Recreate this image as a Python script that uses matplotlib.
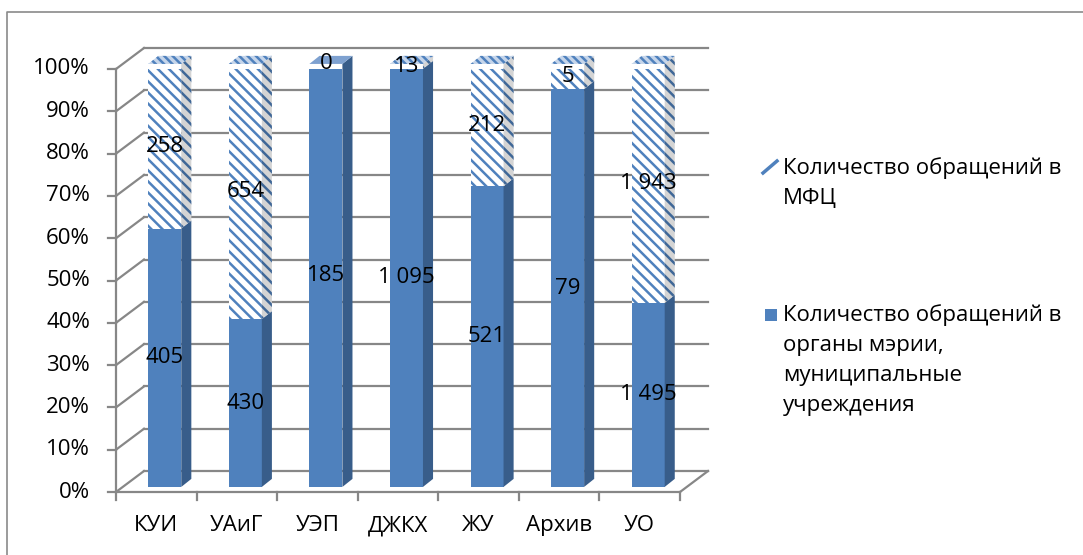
import matplotlib.pyplot as plt
from matplotlib.patches import Polygon, Rectangle
from matplotlib.lines import Line2D

categories = ['КУИ', 'УАиГ', 'УЭП', 'ДЖКХ', 'ЖУ', 'Архив', 'УО']
mayor_office = [405, 430, 185, 1095, 521, 79, 1495]
mfc = [258, 654, 0, 13, 212, 5, 1943]
legend_mfc = ['Количество обращений в', 'МФЦ']
legend_mayor = ['Количество обращений в', 'органы мэрии,', 'муниципальные', 'учреждения']

plt.rcParams['font.family'] = ['Open Sans', 'DejaVu Sans']
plt.rcParams['hatch.linewidth'] = 1.8

W, H = 1083, 555
blue = '#4F81BD'
dark = '#385D8A'
grid_c = '#878787'

n = len(categories)
pct_mayor = [m / (m + f) * 100 for m, f in zip(mayor_office, mfc)]
pct_mfc = [f / (m + f) * 100 for m, f in zip(mayor_office, mfc)]

fig = plt.figure(figsize=(W / 100, H / 100), dpi=100)
ax = fig.add_axes([116 / W, 1 - 492 / H, (680 - 116) / W, (492 - 69) / H])
ax.set_xlim(-0.5, n - 0.5)
ax.set_ylim(0, 100)
ax.axis('off')

# depth of the 3d box, bar offsets
DX, DY = 0.3475, 4.96
ox, oy = 0.105, 1.2
bw = 0.41
sx, sy = 0.125, 1.9

# walls and gridlines
for v in range(0, 101, 10):
    ax.plot([-0.5 + DX, n - 0.5 + DX], [v + DY, v + DY], color=grid_c, lw=1.6,
            clip_on=False, zorder=1)
    ax.plot([-0.5, -0.5 + DX], [v, v + DY], color=grid_c, lw=1.6, clip_on=False, zorder=1)
    ax.plot([-0.6, -0.5], [v, v], color=grid_c, lw=1.6, clip_on=False, zorder=1)
    ax.text(-0.823, v, f'{v}%', ha='right', va='center', fontsize=16)
ax.plot([-0.5, -0.5], [0, 100], color=grid_c, lw=1.6, clip_on=False, zorder=1)
ax.plot([-0.5, n - 0.5], [0, 0], color=grid_c, lw=1.6, clip_on=False, zorder=1)
ax.plot([n - 0.5, n - 0.5 + DX], [0, DY], color=grid_c, lw=1.6, clip_on=False, zorder=1)
for k in range(n + 1):
    ax.plot([k - 0.5, k - 0.5], [0, -1.9], color=grid_c, lw=1.6, clip_on=False, zorder=1)

for i, cat in enumerate(categories):
    ax.text(i, -8, cat, ha='center', va='center', fontsize=16)

# front faces
xf = [i + ox for i in range(n)]
ax.bar(xf, pct_mayor, bw, bottom=oy, color=blue, lw=0, zorder=3)
ax.bar(xf, pct_mfc, bw, bottom=[oy + p for p in pct_mayor], facecolor='white',
       edgecolor=blue, hatch='\\\\\\', lw=0, zorder=3)

# side and top faces
for i in range(n):
    xl = xf[i] - bw / 2
    xr = xf[i] + bw / 2
    y0 = oy
    y1 = oy + pct_mayor[i]
    y2 = y1 + pct_mfc[i]
    ax.add_patch(Polygon([(xr, y0), (xr, y1), (xr + sx, y1 + sy), (xr + sx, y0 + sy)],
                         closed=True, facecolor=dark, lw=0, zorder=3, clip_on=False))
    if pct_mfc[i] > 0:
        ax.add_patch(Polygon([(xr, y1), (xr, y2), (xr + sx, y2 + sy), (xr + sx, y1 + sy)],
                             closed=True, facecolor='#d4d4d4', edgecolor='#3F6797',
                             hatch='\\\\\\', lw=0, zorder=3, clip_on=False))
        ax.add_patch(Polygon([(xl, y2), (xr, y2), (xr + sx, y2 + sy), (xl + sx, y2 + sy)],
                             closed=True, facecolor='#c5d5ea', edgecolor=blue,
                             hatch='\\\\\\\\', lw=0, zorder=3, clip_on=False))
    else:
        ax.add_patch(Polygon([(xl, y2), (xr, y2), (xr + sx, y2 + sy), (xl + sx, y2 + sy)],
                             closed=True, facecolor='#7EA1D0', lw=0, zorder=3, clip_on=False))

# data labels
def fmt(v):
    return f'{v:,}'.replace(',', ' ')

for i in range(n):
    ax.text(xf[i], oy + pct_mayor[i] / 2, fmt(mayor_office[i]), ha='center', va='center',
            fontsize=16, zorder=5)
    ax.text(xf[i], oy + pct_mayor[i] + pct_mfc[i] / 2, fmt(mfc[i]), ha='center', va='center',
            fontsize=16, zorder=5)

# legend
def fx(x):
    return x / W

def fy(y):
    return 1 - y / H

for j, line in enumerate(legend_mfc):
    fig.text(fx(783), fy(168 + 31 * j), line, ha='left', va='center', fontsize=16)
for j, line in enumerate(legend_mayor):
    fig.text(fx(783), fy(315 + 30 * j), line, ha='left', va='center', fontsize=16)
fig.add_artist(Line2D([fx(763), fx(777)], [fy(173), fy(161)], color=blue, lw=2.5))
fig.add_artist(Rectangle((fx(765), fy(321)), 12 / W, 12 / H, facecolor=blue, lw=0))

# outer border
fig.add_artist(Line2D([fx(7), fx(7), fx(1083)], [fy(555), fy(12), fy(12)], color='#8a8a8a', lw=1.2))

fig.savefig('out.png', dpi=100)
